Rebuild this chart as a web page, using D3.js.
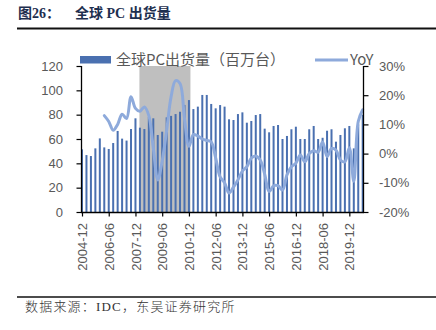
<!DOCTYPE html>
<html><head><meta charset="utf-8">
<script src="https://cdn.jsdelivr.net/npm/d3@7"></script>
<style>
html,body{margin:0;padding:0;background:#fff;}
svg{display:block;}
</style></head>
<body>
<svg id="c" width="436" height="330"></svg>
<script>
const categories = [
"2004-12",
"2005-03","2005-06","2005-09","2005-12",
"2006-03","2006-06","2006-09","2006-12",
"2007-03","2007-06","2007-09","2007-12",
"2008-03","2008-06","2008-09","2008-12",
"2009-03","2009-06","2009-09","2009-12",
"2010-03","2010-06","2010-09","2010-12",
"2011-03","2011-06","2011-09","2011-12",
"2012-03","2012-06","2012-09","2012-12",
"2013-03","2013-06","2013-09","2013-12",
"2014-03","2014-06","2014-09","2014-12",
"2015-03","2015-06","2015-09","2015-12",
"2016-03","2016-06","2016-09","2016-12",
"2017-03","2017-06","2017-09","2017-12",
"2018-03","2018-06","2018-09","2018-12",
"2019-03","2019-06","2019-09","2019-12",
"2020-03","2020-06","2020-09"];

// 全球PC出货量（百万台）
const shipments = [
51.5,
46.8,46,52.3,60.5,
53.1,51.8,56.7,66.6,
60.3,58.7,68.2,77,
69.3,68.2,78,77,
63.3,66,77.8,79,
80.5,82.4,88,92,
84.6,86.6,96.2,96.2,
88.8,85.2,87.9,86.6,
76.2,75.6,80.5,81.9,
73.4,74.8,79.7,80.5,
68.5,65.5,70.7,71.5,
60,62.5,68,70.1,
60,60,68,70.7,
60,61,66.8,68,
57.8,63.3,68.8,70.7,
52.3,72,80];

// YoY (%)
const yoy = [
null,
null,null,null,null,
13,11,8,10,
13.5,12,19.5,15.5,
14.5,16,13,2,
-9,-2.5,8,19.5,
25,24,12,2.5,
6.5,6,5,4.5,
4,-1.5,-8,-10,
-13.5,-11.5,-9,-6,
-4.5,-1.5,-0.8,-2.2,
-7,-13,-11,-11,
-12.5,-7.3,-4.5,-3.3,
-0.5,-2.8,0,1,
0.5,4,-1,1.8,
1.2,-2.2,-2.8,2,
-9.5,11,15];

const xTickLabels = ["2004-12","2006-06","2007-12","2009-06","2010-12","2012-06","2013-12","2015-06","2016-12","2018-06","2019-12"];
const leftTicks = [0,20,40,60,80,100,120];
const rightTicks = [-0.2,-0.1,0,0.1,0.2,0.3];
const shadeRange = ["2008-03","2010-12"];

const barColor = "#4a70b0", lineColor = "#8eaadb", axisText = "#595959";
const svg = d3.select("#c");

// Title
const title = svg.append("text").attr("y",18)
  .attr("font-family","'Liberation Serif','Noto Sans CJK SC',serif")
  .attr("font-weight","bold").attr("font-size",14).attr("fill","#1e2f4f");
title.append("tspan").attr("x",18).text("图26：");
title.append("tspan").attr("x",75).text("全球 PC 出货量");
svg.append("line").attr("x1",17).attr("x2",436).attr("y1",28.5).attr("y2",28.5)
  .attr("stroke","#111").attr("stroke-width",2);

// Source
svg.append("line").attr("x1",17).attr("x2",436).attr("y1",297).attr("y2",297)
  .attr("stroke","#111").attr("stroke-width",1.5);
svg.append("text").attr("x",25).attr("y",311)
  .attr("font-family","'Liberation Serif','Noto Sans CJK SC',serif")
  .attr("font-size",13).attr("font-weight",300).attr("fill","#333").attr("letter-spacing",1.2)
  .text("数据来源：IDC，东吴证券研究所");

// Scales
const x = d3.scalePoint().domain(categories).range([82, 362.7]);
const yL = d3.scaleLinear().domain([0,120]).range([212,66]);
const yR = d3.scaleLinear().domain([-0.2,0.3]).range([212,66]);

// Shade
svg.append("rect")
  .attr("x", x(shadeRange[0]) - 0.5)
  .attr("width", x(shadeRange[1]) - x(shadeRange[0]) + 2)
  .attr("y", yL(120)).attr("height", yL(0) - yL(120))
  .attr("fill","#bfbfbf");

// Bars
svg.append("g").selectAll("rect").data(categories).join("rect")
  .attr("x", d => x(d) - 1).attr("width", 2)
  .attr("y", (d,i) => yL(shipments[i]))
  .attr("height", (d,i) => yL(0) - yL(shipments[i]))
  .attr("fill", barColor);

// Line
const lineData = categories.map((c,i) => ({c, v: yoy[i]}));
svg.append("path").datum(lineData)
  .attr("fill","none").attr("stroke",lineColor).attr("stroke-width",3)
  .attr("stroke-linejoin","round").attr("stroke-linecap","round")
  .attr("d", d3.line().defined(d => d.v != null)
    .x(d => x(d.c)).y(d => yR(d.v/100))
    .curve(d3.curveCatmullRom.alpha(0.5)));

// Axes
const fontNum = "'Liberation Sans','Noto Sans CJK SC',sans-serif";
const gL = svg.append("g").attr("transform","translate(81.5,0)")
  .call(d3.axisLeft(yL).tickValues(leftTicks).tickSize(5).tickPadding(13.5).tickSizeOuter(0));
const gR = svg.append("g").attr("transform","translate(363.5,0)")
  .call(d3.axisRight(yR).tickValues(rightTicks).tickSize(5).tickPadding(10.5).tickSizeOuter(0)
    .tickFormat(d => Math.round(d*100) + "%"));
const gB = svg.append("g").attr("transform","translate(0,212.5)")
  .call(d3.axisBottom(x).tickValues(xTickLabels).tickSize(4).tickSizeOuter(0));
gB.selectAll("text").attr("transform","rotate(-90)")
  .attr("x",-10.5).attr("y",0).attr("dy","0.35em").attr("text-anchor","end");
[gL,gR,gB].forEach(g => {
  g.select(".domain").remove();
  g.selectAll("line").attr("stroke","#000").attr("stroke-width",1.2);
  g.selectAll("text").attr("fill",axisText).attr("font-size",13).attr("font-family",fontNum);
});
svg.append("line").attr("x1",81.5).attr("x2",81.5).attr("y1",66).attr("y2",213).attr("stroke","#000").attr("stroke-width",1.3);
svg.append("line").attr("x1",363.5).attr("x2",363.5).attr("y1",66).attr("y2",213).attr("stroke","#000").attr("stroke-width",1.3);
svg.append("line").attr("x1",81).attr("x2",364).attr("y1",212.5).attr("y2",212.5).attr("stroke","#000").attr("stroke-width",1.3);

// Legend
const lg = svg.append("g");
lg.append("rect").attr("x",80).attr("y",56).attr("width",31).attr("height",7.5).attr("fill",barColor);
lg.append("text").attr("x",116).attr("y",65).attr("font-size",15)
  .attr("font-family","'Noto Sans CJK SC',sans-serif").attr("fill",axisText)
  .text("全球PC出货量（百万台）");
lg.append("line").attr("x1",315).attr("x2",348).attr("y1",60).attr("y2",60)
  .attr("stroke",lineColor).attr("stroke-width",3);
lg.append("text").attr("x",350).attr("y",65).attr("font-size",15)
  .attr("font-family","'Noto Sans CJK SC',sans-serif").attr("fill",axisText)
  .text("YoY");
</script>
</body></html>
